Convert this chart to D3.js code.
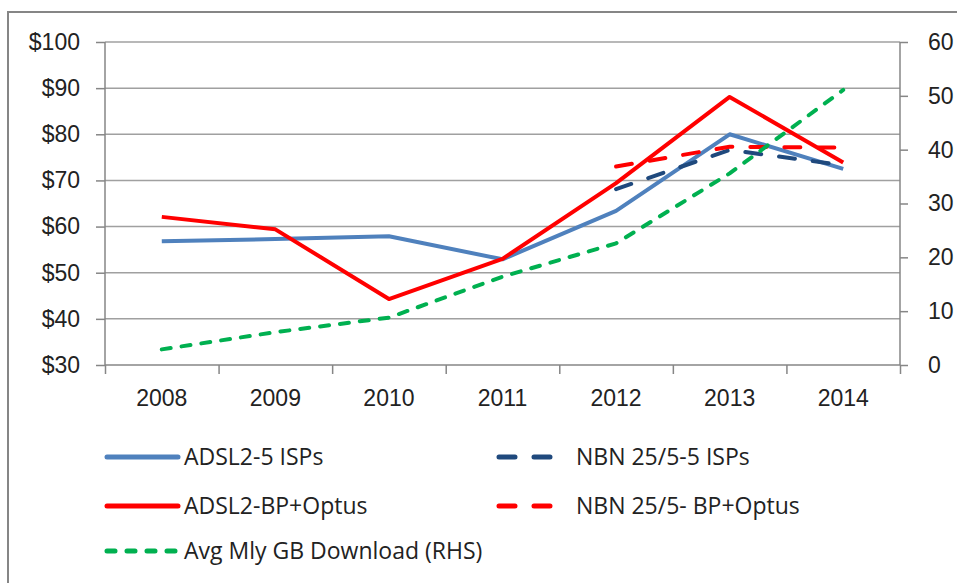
<!DOCTYPE html>
<html>
<head>
<meta charset="utf-8">
<script src="https://cdn.jsdelivr.net/npm/d3@7"></script>
<style>
  body { margin: 0; background: #fff; }
  svg { display: block; font-family: "Open Sans", Calibri, sans-serif; }
  .axis text { font-size: 23px; fill: #222; }
  .axis path, .axis line { stroke: #868686; stroke-width: 1.5; }
  .grid line { stroke: #a0a0a0; stroke-width: 1.5; }
  .legend text { font-size: 23px; fill: #222; }
</style>
</head>
<body>
<div id="chart"></div>
<script>
const years = ["2008", "2009", "2010", "2011", "2012", "2013", "2014"];
const leftTicks = [30, 40, 50, 60, 70, 80, 90, 100];
const rightTicks = [0, 10, 20, 30, 40, 50, 60];

// monthly price ($) on left axis
const adsl5Isps = [56.8, 57.3, 57.9, 52.9, 63.4, 80.0, 72.5];
const adslBpOptus = [62.1, 59.4, 44.3, 53.0, 69.4, 88.1, 73.9];
const nbn5Isps = [null, null, null, null, 68.1, 76.6, 73.3];
const nbnBpOptus = [null, null, null, null, 73.0, 77.3, 77.1];
// GB per month on right axis
const gbDownload = [2.9, 6.1, 8.8, 16.4, 22.6, 35.6, 51.1];

const series = [
  { name: "ADSL2-5 ISPs", values: adsl5Isps, axis: "left", color: "#4f81bd", dash: null },
  { name: "NBN 25/5-5 ISPs", values: nbn5Isps, axis: "left", color: "#1f497d", dash: "16,18" },
  { name: "ADSL2-BP+Optus", values: adslBpOptus, axis: "left", color: "#ff0000", dash: null },
  { name: "NBN 25/5- BP+Optus", values: nbnBpOptus, axis: "left", color: "#ff0000", dash: "16,18" },
  { name: "Avg Mly GB Download (RHS)", values: gbDownload, axis: "right", color: "#00b050", dash: "9,11" }
];

const width = 957, height = 583;
const plot = { left: 105, right: 900, top: 42, bottom: 365 };

const svg = d3.select("#chart").append("svg")
  .attr("width", width)
  .attr("height", height);

// outer frame of the chart
svg.append("rect")
  .attr("x", 8).attr("y", 12)
  .attr("width", width + 20).attr("height", height + 20)
  .attr("fill", "none")
  .attr("stroke", "#868686")
  .attr("stroke-width", 2);

const xBand = d3.scaleBand().domain(years).range([plot.left, plot.right]).padding(0);
const xEdge = d3.scaleLinear().domain([0, years.length]).range([plot.left, plot.right]);
const yLeft = d3.scaleLinear().domain([30, 100]).range([plot.bottom, plot.top]);
const yRight = d3.scaleLinear().domain([0, 60]).range([plot.bottom, plot.top]);

// gridlines
svg.append("g").attr("class", "grid")
  .selectAll("line")
  .data(leftTicks.slice(1))
  .enter().append("line")
  .attr("x1", plot.left).attr("x2", plot.right)
  .attr("y1", d => yLeft(d)).attr("y2", d => yLeft(d));

// left axis
svg.append("g").attr("class", "axis")
  .attr("transform", "translate(" + plot.left + ",0)")
  .call(d3.axisLeft(yLeft).tickValues(leftTicks).tickSize(9).tickPadding(16)
    .tickFormat(d => "$" + d))
  .call(g => g.select(".domain").attr("d", "M0," + plot.top + "V" + plot.bottom));

// right axis
svg.append("g").attr("class", "axis")
  .attr("transform", "translate(" + plot.right + ",0)")
  .call(d3.axisRight(yRight).tickValues(rightTicks).tickSize(8).tickPadding(20))
  .call(g => g.select(".domain").attr("d", "M0," + plot.top + "V" + plot.bottom));

// bottom axis: tick marks between categories
svg.append("g").attr("class", "axis")
  .attr("transform", "translate(0," + plot.bottom + ")")
  .call(d3.axisBottom(xEdge).tickValues(d3.range(years.length + 1)).tickSize(9).tickFormat(""))
  .call(g => g.select(".domain").attr("d", "M" + plot.left + ",0H" + plot.right));

svg.append("g").attr("class", "axis")
  .attr("transform", "translate(0," + plot.bottom + ")")
  .call(d3.axisBottom(xBand).tickSize(0).tickPadding(25))
  .call(g => g.select(".domain").remove());

const xPoint = d => xBand(d) + xBand.bandwidth() / 2;

// lines
series.forEach(s => {
  const y = s.axis === "left" ? yLeft : yRight;
  const line = d3.line()
    .defined(d => d.v != null)
    .x(d => xPoint(d.year))
    .y(d => y(d.v));
  svg.append("path")
    .datum(years.map((yr, i) => ({ year: yr, v: s.values[i] })))
    .attr("fill", "none")
    .attr("stroke", s.color)
    .attr("stroke-width", 4)
    .attr("stroke-linejoin", "round")
    .attr("stroke-linecap", s.dash ? "round" : "butt")
    .attr("stroke-dasharray", s.dash)
    .attr("d", line);
});

// legend
const legendPos = [
  { x: 107, y: 457, len: 71 },
  { x: 499, y: 457, len: 53 },
  { x: 107, y: 506, len: 71 },
  { x: 499, y: 506, len: 53 },
  { x: 107, y: 551, len: 71 }
];
const legend = svg.append("g").attr("class", "legend");
series.forEach((s, i) => {
  const p = legendPos[i];
  const g = legend.append("g").attr("transform", "translate(" + p.x + "," + p.y + ")");
  g.append("line")
    .attr("x1", 0).attr("x2", p.len)
    .attr("stroke", s.color)
    .attr("stroke-width", 5)
    .attr("stroke-linecap", "round")
    .attr("stroke-dasharray", s.dash ? (i === 4 ? "8,12" : "16,19") : null);
  g.append("text")
    .attr("x", 77)
    .attr("dy", "0.35em")
    .text(s.name);
});
</script>
</body>
</html>
